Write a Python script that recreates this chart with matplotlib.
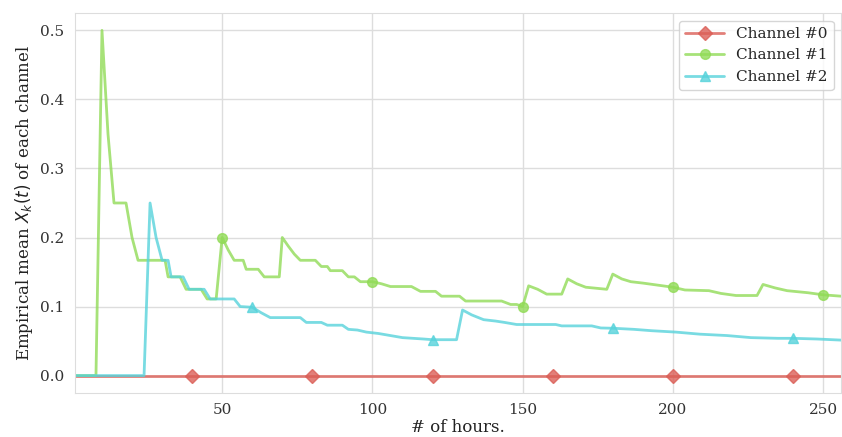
import numpy as np
import matplotlib
matplotlib.use("Agg")
import matplotlib.pyplot as plt
import seaborn as sns

sns.set_style("whitegrid")
plt.rcParams['font.family'] = ['DejaVu Serif']

# hours at which the curves change slope
ch0_x = [1, 40, 80, 120, 160, 200, 240, 256]
ch0_y = [0, 0, 0, 0, 0, 0, 0, 0]

ch1_x = [1, 8, 10, 12, 14, 18, 20, 22, 31, 32, 36, 38, 43, 45, 48, 50, 52, 54, 57, 58,
         62, 64, 69, 70, 72, 74, 76, 81, 83, 85, 86, 90, 92, 94, 96, 100, 103, 106, 113,
         116, 121, 123, 129, 131, 143, 146, 148, 150, 152, 155, 158, 163, 165, 168, 171,
         178, 180, 183, 186, 190, 195, 200, 204, 212, 216, 221, 228, 230, 234, 238, 245,
         250, 256]
ch1_y = [0, 0, 0.5, 0.35, 0.25, 0.25, 0.2, 0.167, 0.167, 0.143, 0.143, 0.125, 0.125,
         0.111, 0.111, 0.2, 0.182, 0.167, 0.167, 0.154, 0.154, 0.143, 0.143, 0.2, 0.1875,
         0.176, 0.167, 0.167, 0.158, 0.158, 0.152, 0.152, 0.143, 0.143, 0.136, 0.136,
         0.133, 0.129, 0.129, 0.122, 0.122, 0.115, 0.115, 0.108, 0.108, 0.103, 0.103, 0.1,
         0.13, 0.125, 0.118, 0.118, 0.14, 0.133, 0.128, 0.125, 0.147, 0.14, 0.136, 0.134,
         0.131, 0.128, 0.124, 0.123, 0.119, 0.116, 0.116, 0.132, 0.127, 0.123, 0.12,
         0.117, 0.115]

ch2_x = [1, 24, 26, 28, 30, 32, 33, 37, 39, 44, 46, 54, 56, 60, 63, 66, 76, 78, 83, 85,
         90, 92, 95, 98, 102, 106, 110, 117, 120, 128, 130, 133, 137, 141, 144, 148, 161,
         163, 173, 176, 180, 187, 193, 201, 209, 218, 226, 235, 240, 248, 256]
ch2_y = [0, 0, 0.25, 0.2, 0.167, 0.167, 0.143, 0.143, 0.125, 0.125, 0.111, 0.111, 0.1,
         0.099, 0.091, 0.084, 0.084, 0.077, 0.077, 0.073, 0.073, 0.067, 0.066, 0.063,
         0.061, 0.058, 0.055, 0.053, 0.052, 0.052, 0.095, 0.088, 0.081, 0.079, 0.077,
         0.074, 0.074, 0.072, 0.072, 0.069, 0.0686, 0.067, 0.065, 0.063, 0.06, 0.058,
         0.055, 0.054, 0.054, 0.053, 0.0514]

labels = ["Channel #0", "Channel #1", "Channel #2"]
marks = [[40, 80, 120, 160, 200, 240], [50, 100, 150, 200, 250], [60, 120, 180, 240]]
markers = ["D", "o", "^"]
colors = sns.color_palette("hls", 4)[:3]

fig = plt.figure(figsize=(8.42, 4.37), dpi=100)
ax = fig.add_axes([0.089, 0.101, 0.91, 0.869])

for xs, ys, lab, mk, m, c in zip([ch0_x, ch1_x, ch2_x], [ch0_y, ch1_y, ch2_y],
                                 labels, marks, markers, colors):
    xs = np.array(xs)
    ax.plot(xs, ys, color=c, lw=2, marker=m, ms=7, alpha=0.8,
            markevery=list(np.isin(xs, mk)), label=lab)

ax.set_xlim(1, 256)
ax.set_xticks([50, 100, 150, 200, 250])
ax.set_yticks([0, 0.1, 0.2, 0.3, 0.4, 0.5])
ax.tick_params(labelsize=11, colors="#333333", pad=4)
ax.set_xlabel("# of hours.", fontsize=12, labelpad=1, color="#222222")
ax.set_ylabel("Empirical mean $X_k(t)$ of each channel", fontsize=12, color="#222222")
for s in ax.spines.values():
    s.set_color("#dddddd")
ax.grid(True, color="#dddddd", lw=1)
ax.legend(loc="upper right", fontsize=11, frameon=True, handlelength=2.5)

fig.savefig("out.png", dpi=100)
